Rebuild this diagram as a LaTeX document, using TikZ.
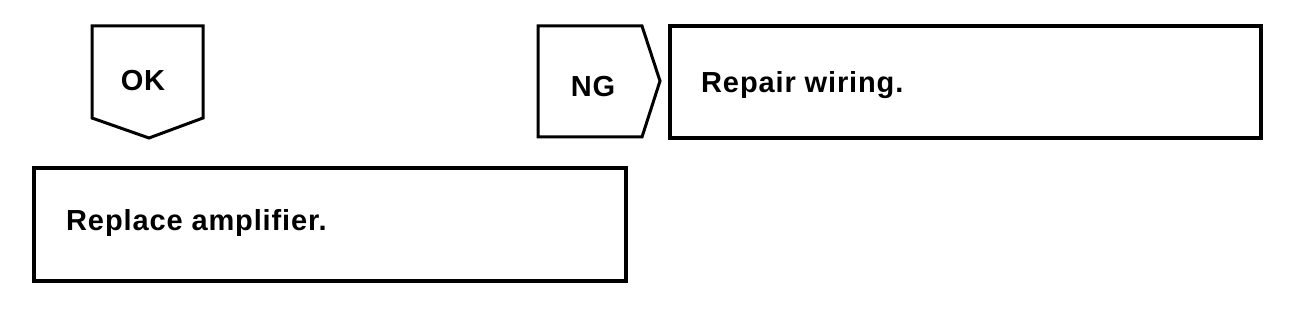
\documentclass[tikz,border=0pt]{standalone}
\usepackage{fontspec}
\setmainfont{Liberation Sans}
\begin{document}
\begin{tikzpicture}[x=1pt,y=-1pt,
  boxline/.style={draw=black,line width=3.8pt,line join=miter},
  tagline/.style={draw=black,line width=3pt,line join=miter},
  lbl/.style={font=\fontsize{29}{31}\selectfont\bfseries\addfontfeature{LetterSpace=3},inner sep=0pt}]
\useasboundingbox[fill=white] (0,0) rectangle (1312,326);
% OK tag
\draw[tagline] (92,26) -- (203,26) -- (203,118) -- (149,138) -- (92,118) -- cycle;
\node[lbl,anchor=base] (ok) at (143,91) {OK};
% NG tag
\draw[tagline] (538,26) -- (642,26) -- (660,81) -- (642,137) -- (538,137) -- cycle;
\node[lbl,anchor=base] (ng) at (593,97) {NG};
% Repair box
\draw[boxline] (670,26) rectangle (1261,138);
\node[lbl,anchor=base west] (repair) at (701,93) {Repair wiring.};
% Replace box
\draw[boxline] (34,168) rectangle (626,281);
\node[lbl,anchor=base west] (replace) at (66,230) {Replace amplifier.};
\end{tikzpicture}
\end{document}
